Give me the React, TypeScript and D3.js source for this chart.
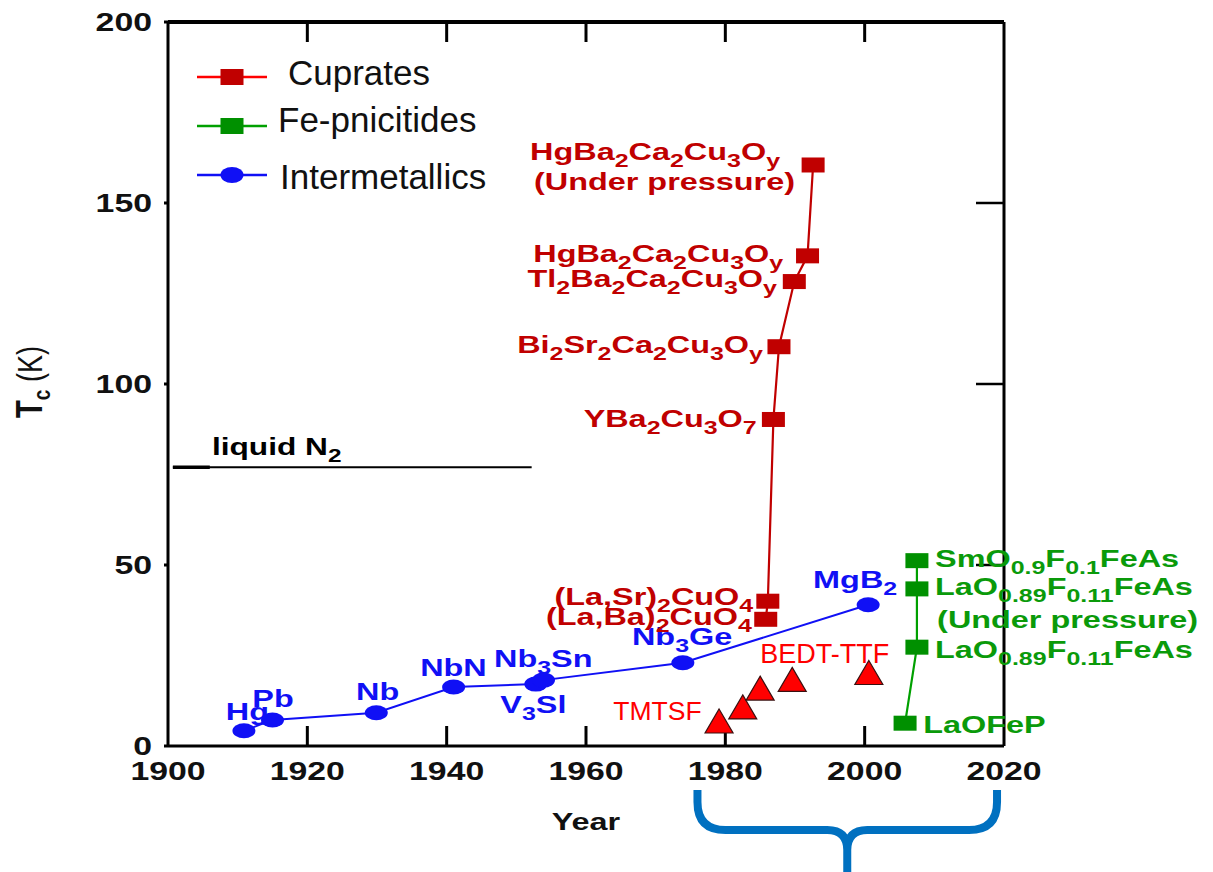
import React from "react";
import * as d3 from "d3";

const W = 1213;
const H = 872;

// ---------- data ----------
const interNames = ["Hg", "Pb", "Nb", "NbN", "V{3}Sl", "Nb{3}Sn", "Nb{3}Ge", "MgB{2}"];
const interYears = [1910.9, 1915, 1929.9, 1941, 1952.8, 1953.9, 1973.9, 2000.5];
const interTc = [4.2, 7.2, 9.2, 16.3, 17.1, 18.2, 23, 39];

const cupNames = [
  "(La,Ba){2}CuO{4}",
  "(La,Sr){2}CuO{4}",
  "YBa{2}Cu{3}O{7}",
  "Bi{2}Sr{2}Ca{2}Cu{3}O{y}",
  "Tl{2}Ba{2}Ca{2}Cu{3}O{y}",
  "HgBa{2}Ca{2}Cu{3}O{y}",
  "HgBa{2}Ca{2}Cu{3}O{y}",
];
const cupYears = [1985.8, 1986.1, 1986.9, 1987.7, 1989.9, 1991.8, 1992.6];
const cupTc = [35, 40, 90.2, 110.3, 128.3, 135.4, 160.5];

const feNames = ["LaOFeP", "LaO{0.89}F{0.11}FeAs", "LaO{0.89}F{0.11}FeAs", "SmO{0.9}F{0.1}FeAs"];
const feYears = [2005.8, 2007.5, 2007.5, 2007.5];
const feTc = [6.3, 27.3, 43.4, 51.2];

const orgYears = [1979.1, 1982.5, 1985.0, 1989.6, 2000.6];
const orgTc = [6.9, 10.8, 16.0, 18.4, 20.3];

const xTicks = [1900, 1920, 1940, 1960, 1980, 2000, 2020];
const yTicks = [0, 50, 100, 150, 200];
const legendNames = ["Cuprates", "Fe-pnicitides", "Intermetallics"];
const liquidN2 = 77;

// annotation anchors (year, Tc) for text labels
const interLabelYears = [1908.3, 1912.1, 1927.0, 1936.2, 1947.7, 1946.8, 1966.6, 1992.6];
const interLabelTc = [7.2, 10.8, 12.7, 19.3, 9.1, 21.8, 27.9, 43.6];
const cupLabelYears = [1983.8, 1984.0, 1984.5, 1985.4, 1987.4, 1988.3, 1987.85];
const cupLabelTc = [33.4, 39.0, 88.1, 108.6, 126.8, 133.7, 161.9];
const feLabelYears = [2008.4, 2010.1, 2010.1, 2010.1];
const feLabelTc = [3.6, 24.3, 41.7, 49.4];

const FONT = "'Liberation Sans', Arial, Helvetica, sans-serif";
const RED_D = "#c00000";
const RED = "#ff0000";
const GREEN = "#0a9a0a";
const BLUE = "#1010f5";

type Part = { t: string; sub: boolean };
function parts(s: string): Part[] {
  const out: Part[] = [];
  const re = /\{([^}]*)\}|([^{]+)/g;
  let m: RegExpExecArray | null;
  while ((m = re.exec(s))) {
    if (m[1] !== undefined) out.push({ t: m[1], sub: true });
    else out.push({ t: m[2], sub: false });
  }
  return out;
}

function Rich(props: {
  x: number; y: number; s: string; anchor?: string; size?: number; sub?: number;
  shift?: number; sx?: number; fill?: string; weight?: string | number;
}) {
  const { x, y, s, anchor = "start", size = 24, sub = 18.5, shift = 7, sx = 1.35, fill = "#000", weight = "bold" } = props;
  const ps = parts(s);
  let cur = 0;
  return (
    <text
      transform={`translate(${x},${y}) scale(${sx},1)`}
      textAnchor={anchor as any}
      fill={fill}
      fontWeight={weight as any}
      fontSize={size}
      fontFamily={FONT}
    >
      {ps.map((p, i) => {
        const target = p.sub ? shift : 0;
        const dy = target - cur;
        cur = target;
        return (
          <tspan key={i} dy={dy} fontSize={p.sub ? sub : size}>
            {p.t}
          </tspan>
        );
      })}
    </text>
  );
}

export default function App() {
  const x = d3.scaleLinear().domain([1900, 2020]).range([168, 1004]);
  const y = d3.scaleLinear().domain([0, 200]).range([746, 22]);

  const line = d3
    .line<[number, number]>()
    .x((d) => x(d[0]))
    .y((d) => y(d[1]));

  const interPts = interYears.map((v, i) => [v, interTc[i]] as [number, number]);
  const cupPts = cupYears.map((v, i) => [v, cupTc[i]] as [number, number]);
  const fePts = feYears.map((v, i) => [v, feTc[i]] as [number, number]);

  const sqW = 23, sqH = 15;
  const triPath = "M0,-12L14,12L-14,12Z";

  // brace
  const bL = x(1976), bR = x(2019), bM = (bL + bR) / 2;
  const bTop = 790, bMid = 830, bBot = 880, r1 = 28, r2 = 20;
  const bp = d3.path();
  bp.moveTo(bL, bTop);
  bp.lineTo(bL, bMid - r1);
  bp.quadraticCurveTo(bL, bMid, bL + r1, bMid);
  bp.lineTo(bM - r2, bMid);
  bp.quadraticCurveTo(bM, bMid, bM, bMid + r2);
  bp.lineTo(bM, bBot);
  bp.moveTo(bM, bMid + r2);
  bp.quadraticCurveTo(bM, bMid, bM + r2, bMid);
  bp.lineTo(bR - r1, bMid);
  bp.quadraticCurveTo(bR, bMid, bR, bMid - r1);
  bp.lineTo(bR, bTop);

  const x0 = x(1900), x1 = x(2020), y0 = y(0), y1 = y(200);

  const legendY = [77, 126, 175];
  const legendTextX = [288, 278, 280];
  const legendTextY = [85, 132, 189];
  const legendLine = [RED, "#00a000", BLUE];
  const legendMark = [RED_D, "#009000", BLUE];

  return (
    <svg width={W} height={H} style={{ position: "absolute", left: 0, top: 0, background: "#fff" }}>
      <rect x={0} y={0} width={W} height={H} fill="#fff" />

      {/* frame */}
      <line x1={x0} x2={x1} y1={y1} y2={y1} stroke="#000" strokeWidth={4} />
      <line x1={x0} x2={x1} y1={y0} y2={y0} stroke="#000" strokeWidth={3} />
      <line x1={x0} x2={x0} y1={y1} y2={y0} stroke="#000" strokeWidth={3} />
      <line x1={x1} x2={x1} y1={y1} y2={y0} stroke="#000" strokeWidth={3} />

      {xTicks.slice(1, -1).map((t) => (
        <g key={"xt" + t}>
          <line x1={x(t)} x2={x(t)} y1={y0} y2={y0 - 20} stroke="#000" strokeWidth={3} />
          <line x1={x(t)} x2={x(t)} y1={y1} y2={y1 + 20} stroke="#000" strokeWidth={3} />
        </g>
      ))}
      {yTicks.slice(1, -1).map((t) => (
        <line key={"yr" + t} x1={x1} x2={x1 - 28} y1={y(t)} y2={y(t)} stroke="#000" strokeWidth={2.5} />
      ))}
      {yTicks.map((t) => (
        <line key={"yl" + t} x1={x0} x2={x0 - 4} y1={y(t)} y2={y(t)} stroke="#000" strokeWidth={3} />
      ))}

      {/* tick labels */}
      {xTicks.map((t) => (
        <Rich key={"xl" + t} x={x(t)} y={y0 + 34} s={String(t)} anchor="middle" size={26} sx={1.3} fill="#111" />
      ))}
      {yTicks.map((t) => (
        <Rich key={"ylab" + t} x={152} y={y(t) + 9} s={String(t)} anchor="end" size={26} sx={1.3} fill="#111" />
      ))}

      {/* axis titles */}
      <Rich x={(x0 + x1) / 2} y={830} s="Year" anchor="middle" size={24} sx={1.35} fill="#111" />
      <text
        transform={`translate(42,382) rotate(-90) scale(1,1.3)`}
        textAnchor="middle"
        fontFamily={FONT}
        fill="#111"
      >
        <tspan fontSize={29} fontWeight="bold">T</tspan>
        <tspan fontSize={19} fontWeight="bold" dy={6}>c</tspan>
        <tspan fontSize={27} dy={-6}> (K)</tspan>
      </text>

      {/* liquid N2 */}
      <line x1={x(1900.7)} x2={x(1952.2)} y1={y(liquidN2)} y2={y(liquidN2)} stroke="#000" strokeWidth={2} />
      <line x1={x(1900.7)} x2={x(1906)} y1={y(liquidN2)} y2={y(liquidN2)} stroke="#000" strokeWidth={3.5} />
      <Rich x={x(1906.3)} y={y(80.4)} s="liquid N{2}" size={24} sub={18.5} sx={1.32} fill="#000" />

      {/* series lines */}
      <path d={line(interPts) || ""} fill="none" stroke={BLUE} strokeWidth={2} />
      <path d={line(cupPts) || ""} fill="none" stroke={RED_D} strokeWidth={2.2} />
      <path d={line(fePts) || ""} fill="none" stroke="#00a000" strokeWidth={2.2} />

      {/* markers */}
      {interPts.map((d, i) => (
        <ellipse key={"ie" + i} cx={x(d[0])} cy={y(d[1])} rx={11.5} ry={7.5} fill={BLUE} />
      ))}
      {cupPts.map((d, i) => (
        <rect key={"cr" + i} x={x(d[0]) - sqW / 2} y={y(d[1]) - sqH / 2} width={sqW} height={sqH} fill={RED_D} />
      ))}
      {fePts.map((d, i) => (
        <rect key={"fr" + i} x={x(d[0]) - sqW / 2} y={y(d[1]) - sqH / 2} width={sqW} height={sqH} fill="#009000" />
      ))}
      {orgYears.map((v, i) => (
        <path
          key={"tr" + i}
          d={triPath}
          transform={`translate(${x(v)},${y(orgTc[i])})`}
          fill={RED}
          stroke="#3a1010"
          strokeWidth={1.2}
        />
      ))}

      {/* labels */}
      {interNames.map((n, i) => (
        <Rich key={"il" + i} x={x(interLabelYears[i])} y={y(interLabelTc[i])} s={n} fill={BLUE} />
      ))}
      {cupNames.map((n, i) => (
        <Rich key={"cl" + i} x={x(cupLabelYears[i])} y={y(cupLabelTc[i])} s={n} anchor="end" fill={RED_D} />
      ))}
      <Rich x={x(1990.0)} y={y(153.6)} s="(Under pressure)" anchor="end" fill={RED_D} />
      {feNames.map((n, i) => (
        <Rich key={"fl" + i} x={x(feLabelYears[i])} y={y(feLabelTc[i])} s={n} fill={GREEN} />
      ))}
      <Rich x={x(2010.4)} y={y(32.6)} s="(Under pressure)" fill={GREEN} />
      <Rich x={x(1976.6)} y={y(7.2)} s="TMTSF" anchor="end" size={26} sx={1.02} fill={RED} weight="normal" />
      <Rich x={x(1985.0)} y={y(22.9)} s="BEDT-TTF" size={27} sx={1.0} fill={RED} weight="normal" />

      {/* legend */}
      {legendNames.map((n, i) => (
        <g key={"lg" + i}>
          <line x1={197} x2={267} y1={legendY[i]} y2={legendY[i]} stroke={legendLine[i]} strokeWidth={2.5} />
          {i < 2 ? (
            <rect x={232 - sqW / 2} y={legendY[i] - 8} width={sqW} height={16} fill={legendMark[i]} />
          ) : (
            <ellipse cx={232} cy={legendY[i]} rx={11.5} ry={8} fill={legendMark[i]} />
          )}
          <text x={legendTextX[i]} y={legendTextY[i]} fontFamily={FONT} fontSize={35} fill="#111">
            {n}
          </text>
        </g>
      ))}

      {/* brace */}
      <path d={bp.toString()} fill="none" stroke="#0070c0" strokeWidth={8} strokeLinecap="butt" />
    </svg>
  );
}
